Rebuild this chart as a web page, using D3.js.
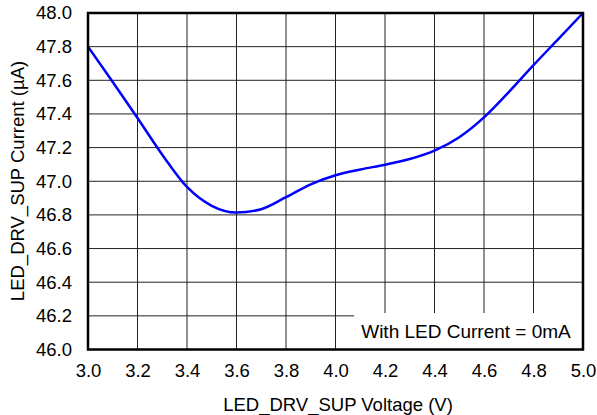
<!DOCTYPE html>
<html><head><meta charset="utf-8">
<script src="https://cdn.jsdelivr.net/npm/d3@7"></script>
<style>body{margin:0;background:#fff;}svg{display:block;font-family:"Liberation Sans",Arial,sans-serif;}</style>
</head><body><svg id="c" width="597" height="415"></svg>
<script>
const voltage = [3.0,3.1,3.2,3.3,3.4,3.5,3.6,3.7,3.8,3.9,4.0,4.1,4.2,4.3,4.4,4.5,4.6,4.7,4.8,4.9,5.0];
const current = [47.80,47.59,47.376,47.158,46.966,46.854,46.814,46.834,46.905,46.982,47.036,47.07,47.098,47.132,47.182,47.262,47.38,47.53,47.69,47.845,48.0];
const xTicks = [3.0,3.2,3.4,3.6,3.8,4.0,4.2,4.4,4.6,4.8,5.0];
const yTicks = [46.0,46.2,46.4,46.6,46.8,47.0,47.2,47.4,47.6,47.8,48.0];
const xTitle = "LED_DRV_SUP Voltage (V)";
const yTitle = "LED_DRV_SUP Current (µA)";
const note = "With LED Current = 0mA";

const svg = d3.select("#c");
const L=88,R=583,T=13,B=349.5;
const x = d3.scaleLinear().domain([3,5]).range([L,R]);
const y = d3.scaleLinear().domain([46,48]).range([B,T]);
const FS = 18.5;

const g = svg.append("g");
g.selectAll(".vg").data(xTicks).enter().append("line")
 .attr("x1",d=>x(d)).attr("x2",d=>x(d)).attr("y1",T).attr("y2",B)
 .attr("stroke","#222").attr("stroke-width",1);
g.selectAll(".hg").data(yTicks).enter().append("line")
 .attr("x1",L).attr("x2",R).attr("y1",d=>y(d)).attr("y2",d=>y(d))
 .attr("stroke","#222").attr("stroke-width",1);
g.append("rect").attr("x",354).attr("y",313).attr("width",R-354).attr("height",B-313).attr("fill","#fff");
g.append("text").attr("x",466).attr("y",338).attr("text-anchor","middle").attr("font-size",19).text(note);
const line = d3.line().x((d,i)=>x(voltage[i])).y(d=>y(d)).curve(d3.curveMonotoneX);
g.append("path").datum(current).attr("d",line).attr("fill","none").attr("stroke","#0000ff").attr("stroke-width",2.5);
g.append("rect").attr("x",L).attr("y",T).attr("width",R-L).attr("height",B-T).attr("fill","none").attr("stroke","#000").attr("stroke-width",2.5);
const xa = d3.axisBottom(x).tickValues(xTicks).tickFormat(d3.format(".1f")).tickSize(0).tickPadding(14);
const xg = svg.append("g").attr("transform",`translate(0,${B})`).call(xa);
const ya = d3.axisLeft(y).tickValues(yTicks).tickFormat(d3.format(".1f")).tickSize(0).tickPadding(16);
const yg = svg.append("g").attr("transform",`translate(${L},0)`).call(ya);
[xg,yg].forEach(a=>{a.select(".domain").remove();a.selectAll("text").attr("font-size",FS).attr("fill","#000").style("font-family","'Liberation Sans',Arial,sans-serif");});
svg.append("text").attr("x",338).attr("y",411).attr("text-anchor","middle").attr("font-size",FS).text(xTitle);
svg.append("text").attr("transform","translate(24,181) rotate(-90)").attr("text-anchor","middle").attr("font-size",FS).text(yTitle);
</script></body></html>
